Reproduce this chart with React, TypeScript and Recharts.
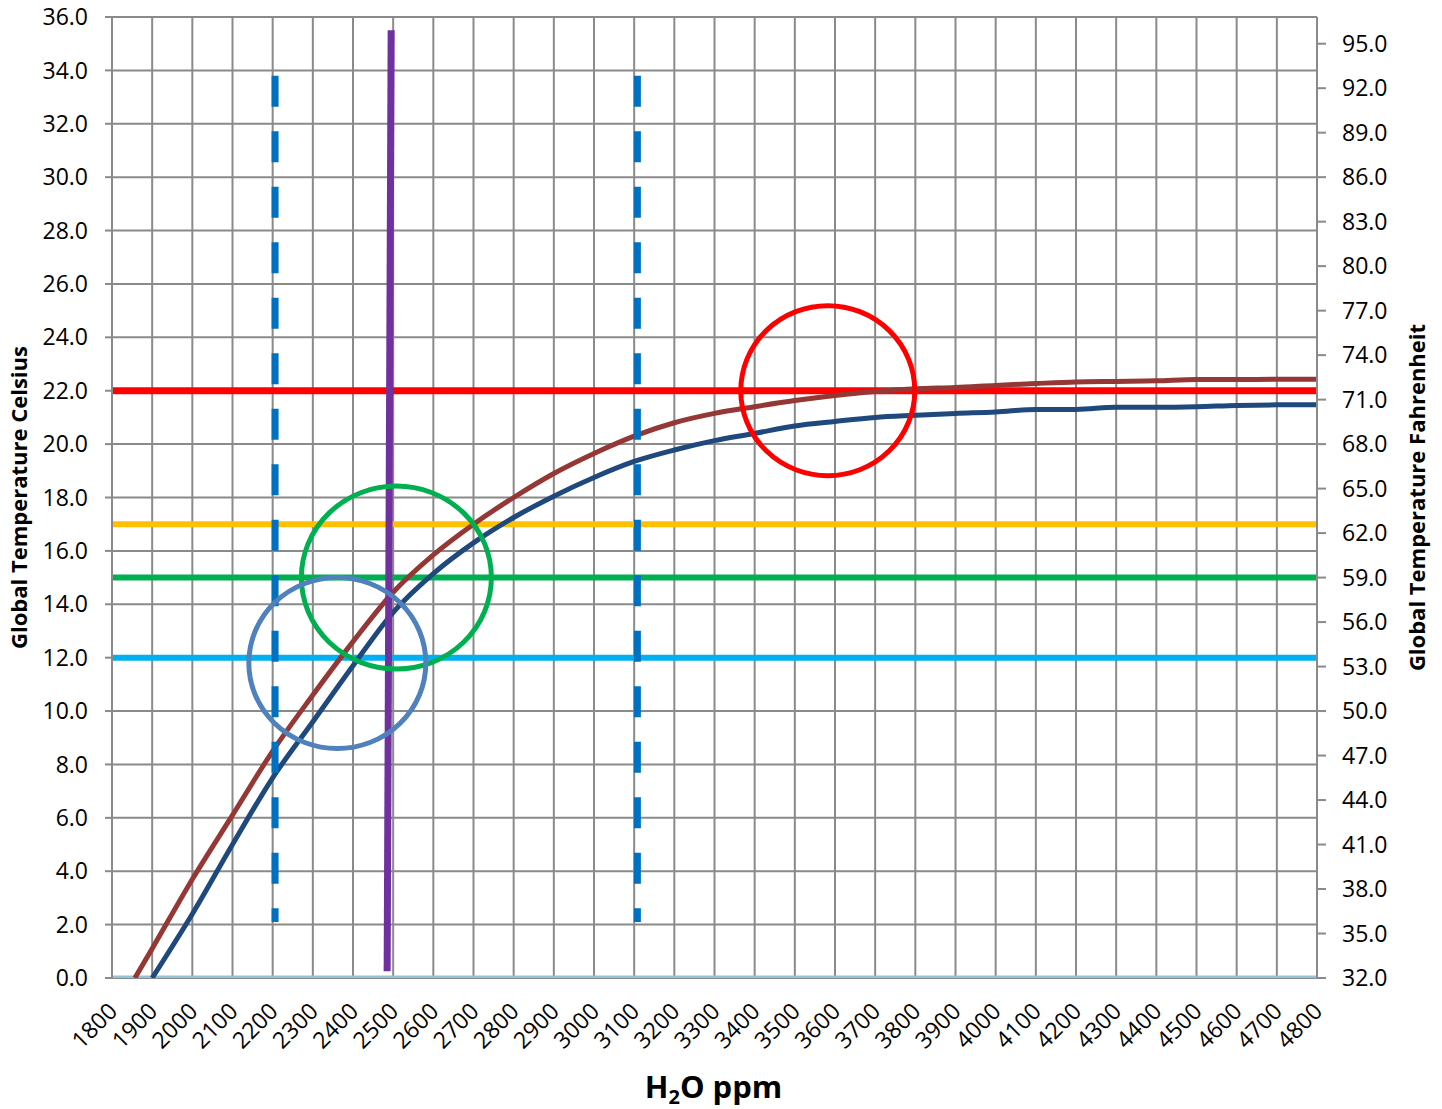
import React from 'react';
import {
  LineChart,
  Line,
  XAxis,
  YAxis,
  CartesianGrid,
  ReferenceLine,
  ReferenceDot,
} from 'recharts';

// tick labels
const ppmTicks = [
  1800, 1900, 2000, 2100, 2200, 2300, 2400, 2500, 2600, 2700, 2800, 2900, 3000, 3100, 3200, 3300,
  3400, 3500, 3600, 3700, 3800, 3900, 4000, 4100, 4200, 4300, 4400, 4500, 4600, 4700, 4800,
];
const celsiusTicks = [0, 2, 4, 6, 8, 10, 12, 14, 16, 18, 20, 22, 24, 26, 28, 30, 32, 34, 36];
const fahrenheitTicks = [32, 35, 38, 41, 44, 47, 50, 53, 56, 59, 62, 65, 68, 71, 74, 77, 80, 83, 86, 89, 92, 95];

// upper (brown) curve
const brownPpm = [
  1857, 1900, 2000, 2100, 2200, 2300, 2400, 2500, 2600, 2700, 2800, 2900, 3000, 3100, 3200, 3300,
  3400, 3500, 3600, 3700, 3800, 3900, 4000, 4100, 4200, 4300, 4400, 4500, 4600, 4700, 4800,
];
const brownTemp = [
  0, 1.1, 3.7, 6.1, 8.5, 10.6, 12.6, 14.45, 15.85, 17.0, 18.0, 18.9, 19.65, 20.3, 20.8, 21.15,
  21.4, 21.63, 21.82, 21.97, 22.07, 22.12, 22.2, 22.27, 22.33, 22.35, 22.37, 22.42, 22.42, 22.43, 22.43,
];

// lower (blue) curve
const bluePpm = [
  1900, 2000, 2100, 2200, 2300, 2400, 2500, 2600, 2700, 2800, 2900, 3000, 3100, 3200, 3300, 3400,
  3500, 3600, 3700, 3800, 3900, 4000, 4100, 4200, 4300, 4400, 4500, 4600, 4700, 4800,
];
const blueTemp = [
  0, 2.4, 5.0, 7.5, 9.6, 11.7, 13.7, 15.15, 16.3, 17.25, 18.05, 18.75, 19.35, 19.78, 20.13, 20.4,
  20.68, 20.85, 21.0, 21.08, 21.15, 21.2, 21.3, 21.3, 21.38, 21.38, 21.4, 21.45, 21.47, 21.47,
];

// horizontal reference levels (°C)
const levelNames = ['red', 'yellow', 'green', 'cyan', 'base'];
const levelTemps = [22, 17, 15, 12, 0];

// dashed verticals
const dashedPpm = [2206, 3108];
const dashedTemp = [33.8, 2.1];

// purple marker
const purplePpm = [2485, 2495];
const purpleTemp = [0.25, 35.5];

// circles
const circleNames = ['red', 'green', 'blue'];
const circlePpm = [3582, 2508, 2361];
const circleTemp = [22, 15, 11.8];

const levelStyle: Record<string, { color: string; width: number }> = {
  red: { color: '#FF0000', width: 7 },
  yellow: { color: '#FFC000', width: 6 },
  green: { color: '#00B050', width: 6 },
  cyan: { color: '#00B0F0', width: 6 },
  base: { color: '#92C4D8', width: 5 },
};

const circleStyle: Record<string, { color: string; rx: number; ry: number }> = {
  red: { color: '#FF0000', rx: 87, ry: 85 },
  green: { color: '#00B050', rx: 95, ry: 91.5 },
  blue: { color: '#4F81BD', rx: 88.5, ry: 85.5 },
};

const W = 1442;
const H = 1109;
const FONT = "'Open Sans', sans-serif";

const brownData = brownPpm.map((p, i) => ({ ppm: p, t: brownTemp[i] }));
const blueData = bluePpm.map((p, i) => ({ ppm: p, t: blueTemp[i] }));

function XTick(props: any) {
  const { x, y, payload } = props;
  const ax = x + 1;
  const ay = y + 29;
  return (
    <text
      x={ax}
      y={ay}
      dy="0.35em"
      textAnchor="end"
      fill="#000"
      fontSize={23}
      fontFamily={FONT}
      transform={`rotate(-45, ${ax}, ${ay})`}
    >
      {payload.value}
    </text>
  );
}

export default function App() {
  return (
    <div style={{ position: 'absolute', left: 0, top: 0, width: W, height: H, background: '#fff', fontFamily: FONT }}>
      <LineChart width={W} height={H} margin={{ top: 17, right: 0, bottom: 0, left: 0 }}>
        <CartesianGrid yAxisId="c" stroke="#8a8a8a" strokeWidth={2} />
        <XAxis
          type="number"
          dataKey="ppm"
          domain={[1800, 4800]}
          ticks={ppmTicks}
          interval={0}
          height={131}
          axisLine={false}
          tickLine={false}
          tickSize={0}
          tickMargin={0}
          tick={<XTick />}
          allowDataOverflow
          label={({ viewBox }: any) => (
            <text
              x={viewBox.x + viewBox.width / 2 - 1}
              y={viewBox.y + 120}
              textAnchor="middle"
              fontSize={31}
              fontWeight="bold"
              fontFamily={FONT}
              fill="#000"
            >
              H
              <tspan fontSize={20} dy={6}>2</tspan>
              <tspan dy={-6}>O ppm</tspan>
            </text>
          )}
        />
        <YAxis
          yAxisId="c"
          orientation="left"
          width={112}
          domain={[0, 36]}
          ticks={celsiusTicks}
          interval={0}
          allowDataOverflow
          tickFormatter={(v: number) => v.toFixed(1)}
          tick={{ fill: '#000', fontSize: 23, fontFamily: FONT }}
          tickSize={7}
          tickMargin={17}
          stroke="#8a8a8a"
          strokeWidth={2}
          label={({ viewBox }: any) => (
            <text
              x={19}
              y={viewBox.y + viewBox.height / 2}
              transform={`rotate(-90, 19, ${viewBox.y + viewBox.height / 2})`}
              textAnchor="middle"
              dy="0.35em"
              fontSize={22}
              fontWeight="bold"
              fontFamily={FONT}
              fill="#000"
            >
              Global Temperature Celsius
            </text>
          )}
        />
        <YAxis
          yAxisId="f"
          orientation="right"
          width={125}
          domain={[32, 96.8]}
          ticks={fahrenheitTicks}
          interval={0}
          allowDataOverflow
          tickFormatter={(v: number) => v.toFixed(1)}
          tick={{ fill: '#000', fontSize: 23, fontFamily: FONT }}
          tickSize={9}
          tickMargin={16}
          stroke="#8a8a8a"
          strokeWidth={2}
          label={({ viewBox }: any) => (
            <text
              x={1417}
              y={viewBox.y + viewBox.height / 2}
              transform={`rotate(-90, 1417, ${viewBox.y + viewBox.height / 2})`}
              textAnchor="middle"
              dy="0.35em"
              fontSize={22}
              fontWeight="bold"
              fontFamily={FONT}
              fill="#000"
            >
              Global Temperature Fahrenheit
            </text>
          )}
        />

        {levelNames.map((name, i) => (
          <Line
            key={name}
            yAxisId="c"
            data={[
              { ppm: ppmTicks[0], t: levelTemps[i] },
              { ppm: ppmTicks[ppmTicks.length - 1], t: levelTemps[i] },
            ]}
            dataKey="t"
            type="linear"
            stroke={levelStyle[name].color}
            strokeWidth={levelStyle[name].width}
            dot={false}
            activeDot={false}
            isAnimationActive={false}
          />
        ))}

        <Line
          yAxisId="c"
          data={brownData}
          dataKey="t"
          type="monotone"
          stroke="#953735"
          strokeWidth={5}
          dot={false}
          activeDot={false}
          isAnimationActive={false}
        />
        <Line
          yAxisId="c"
          data={blueData}
          dataKey="t"
          type="monotone"
          stroke="#1F497D"
          strokeWidth={5}
          dot={false}
          activeDot={false}
          isAnimationActive={false}
        />

        {dashedPpm.map((p) => (
          <ReferenceLine
            key={p}
            yAxisId="c"
            segment={[
              { x: p, y: dashedTemp[0] },
              { x: p, y: dashedTemp[1] },
            ]}
            stroke="#0070C0"
            strokeWidth={7}
            strokeDasharray="31 24.5"
          />
        ))}
        <ReferenceLine
          yAxisId="c"
          segment={[
            { x: purplePpm[1], y: purpleTemp[1] },
            { x: purplePpm[0], y: purpleTemp[0] },
          ]}
          stroke="#7030A0"
          strokeWidth={7}
        />

        {circleNames.map((name, i) => (
          <ReferenceDot
            key={name}
            yAxisId="c"
            x={circlePpm[i]}
            y={circleTemp[i]}
            r={circleStyle[name].rx}
            shape={(props: any) => (
              <ellipse
                cx={props.cx}
                cy={props.cy}
                rx={circleStyle[name].rx}
                ry={circleStyle[name].ry}
                fill="none"
                stroke={circleStyle[name].color}
                strokeWidth={5}
              />
            )}
          />
        ))}
      </LineChart>
    </div>
  );
}
